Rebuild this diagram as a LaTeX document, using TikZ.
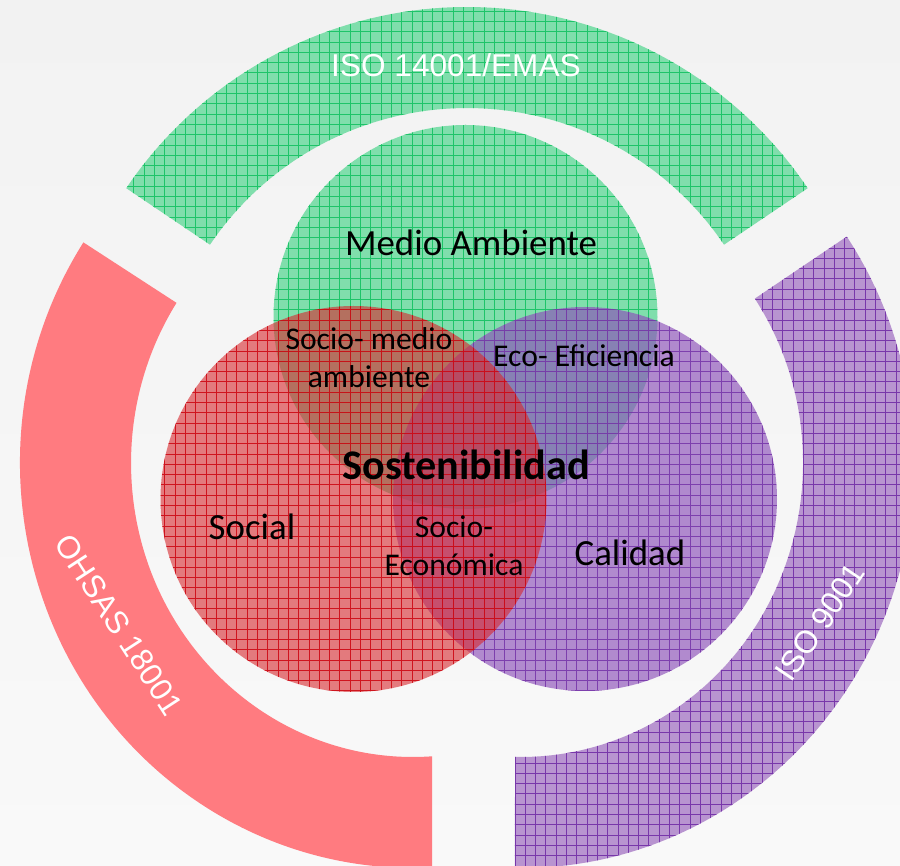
\documentclass[tikz,border=0pt]{standalone}
\usepackage{fontspec}
\setmainfont{Carlito}
\newfontfamily\arialf{Liberation Sans}
\definecolor{bgtop}{RGB}{242,242,242}
\definecolor{bgbot}{RGB}{249,249,249}
\definecolor{gfill}{RGB}{128,222,172}
\definecolor{gline}{RGB}{30,196,105}
\definecolor{rfill}{RGB}{215,40,45}
\definecolor{rline}{RGB}{205,10,20}
\definecolor{pfill}{RGB}{140,80,185}
\definecolor{pline}{RGB}{120,55,170}
\definecolor{parcfill}{RGB}{184,148,208}
\definecolor{rarc}{RGB}{255,123,128}
\newcommand\gridin[2]{\begin{scope}\clip #1;\draw[#2,line width=0.5pt,step=10.3] (0,0) grid (900,866);\end{scope}}
\begin{document}
\begin{tikzpicture}[x=0.02cm,y=0.02cm,
  lbl/.style={font=\fontsize{21}{25}\selectfont,text=black,inner sep=0pt},
  sublbl/.style={font=\fontsize{18}{21.5}\selectfont,text=black,align=center,inner sep=0pt},
  isolbl/.style={font=\arialf\fontsize{18}{21}\selectfont,text=white,inner sep=0pt}]
\useasboundingbox (0,0) rectangle (900,866);
\shade[top color=bgtop,bottom color=bgbot] (0,0) rectangle (900,866);
\def\greenarcpath{(807.7,677.8) arc[start angle=34,end angle=146,radius=411] -- (210,621.3) arc[start angle=146,end angle=34,radius=310] -- cycle}
\def\redarcpath{(83.4,623.6) arc[start angle=147,end angle=272.8,x radius=393,y radius=405] -- (432.2,109.7) arc[start angle=273.9,end angle=147,x radius=282,y radius=294] -- cycle}
\def\purplearcpath{(514.8,-2) arc[start angle=-90.9,end angle=34,x radius=393,y radius=405] -- (754.8,567.4) arc[start angle=34,end angle=-91.2,x radius=282,y radius=294] -- cycle}
\def\greencirc{(465.5,549) circle[radius=192]}
\def\redcirc{(353.5,367) circle[radius=193]}
\def\purplecirc{(585,367) circle[radius=192]}
% outer arcs
\fill[gfill] \greenarcpath;
\gridin{\greenarcpath}{gline}
\fill[rarc] \redarcpath;
\fill[parcfill] \purplearcpath;
\gridin{\purplearcpath}{pline}
% circles
\fill[gfill] \greencirc;
\gridin{\greencirc}{gline}
\fill[pfill,fill opacity=0.65] \purplecirc;
\gridin{\purplecirc}{pline,opacity=0.9}
\fill[rfill,fill opacity=0.6] \redcirc;
\gridin{\redcirc}{rline,opacity=0.9}
% labels
\node[isolbl] (iso14) at (456,801) {ISO 14001/EMAS};
\node[isolbl,rotate=-57] (ohsas) at (119,241) {OHSAS 18001};
\node[isolbl,rotate=56] (iso9) at (820,244) {ISO 9001};
\node[lbl] (medio) at (471,623) {Medio Ambiente};
\node[lbl] (social) at (252,339) {Social};
\node[lbl] (calidad) at (630,313) {Calidad};
\node[sublbl] (socmed) at (369,508) {Socio- medio\\ambiente};
\node[sublbl] (eco) at (584,510) {Eco- Eficiencia};
\node[sublbl] (socec) at (454,320) {Socio-\\Económica};
\node[font=\bfseries\fontsize{24}{28}\selectfont,inner sep=0pt] (sost) at (466,401) {Sostenibilidad};
\end{tikzpicture}
\end{document}
